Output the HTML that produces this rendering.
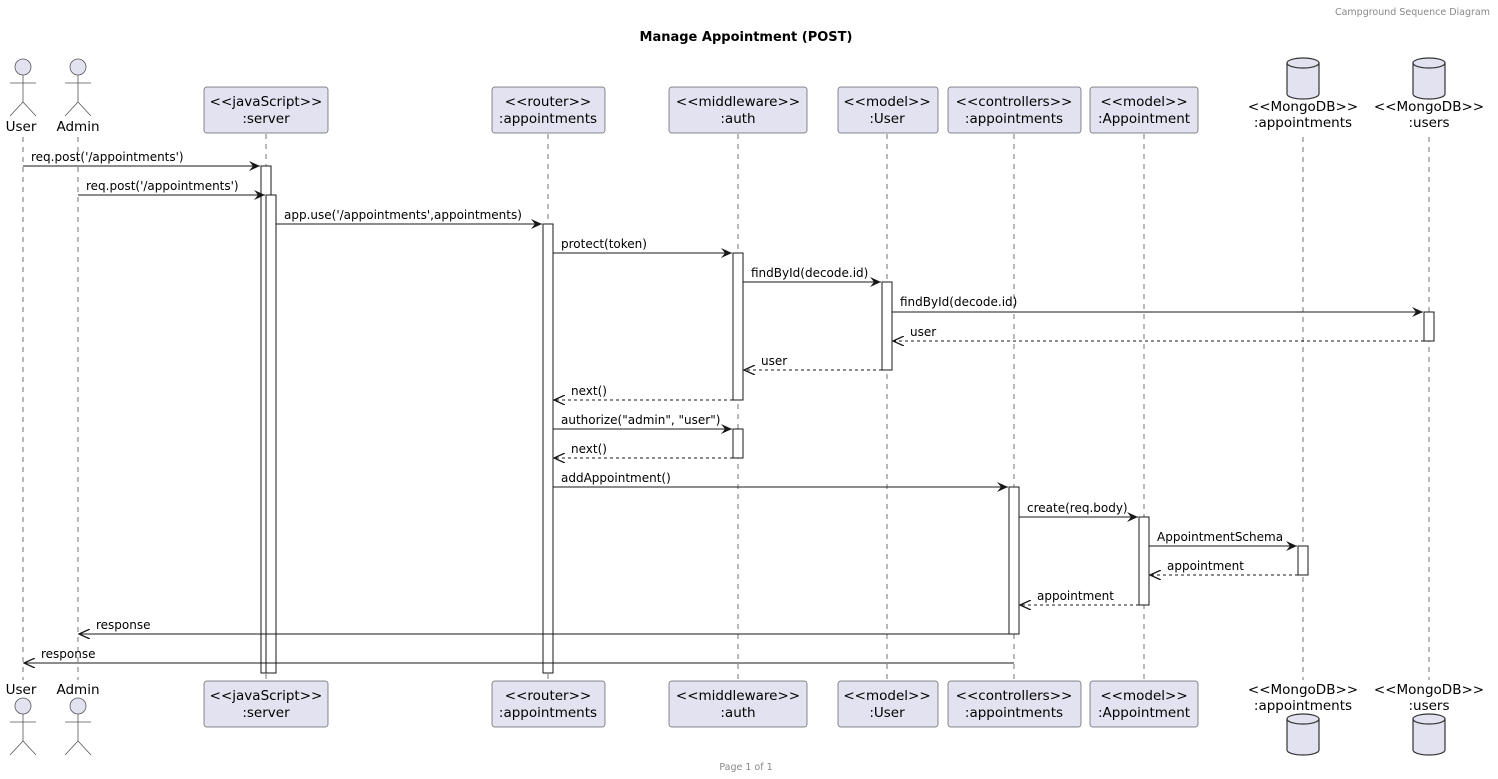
<!DOCTYPE html>
<html><head><meta charset="utf-8"><style>
html,body{margin:0;padding:0;background:#fff}
svg{display:block}
text{font-family:"DejaVu Sans","Liberation Sans",sans-serif;fill:#000}
.lbl{font-size:12px}
.nm{font-size:13.5px;text-anchor:middle}
</style></head><body>
<svg width="1498" height="779" viewBox="0 0 1498 779" xmlns="http://www.w3.org/2000/svg">
<defs>
<marker id="a" markerWidth="12" markerHeight="10" refX="11" refY="5" orient="auto" markerUnits="userSpaceOnUse">
<path d="M0,0 L11,5 L0,10 L4,5 Z" fill="#181818"/></marker>
<marker id="o" markerWidth="12" markerHeight="10" refX="11" refY="5" orient="auto" markerUnits="userSpaceOnUse">
<path d="M0,0 L11,5 L0,10" fill="none" stroke="#181818" stroke-width="1.3"/></marker>
</defs>
<text x="1490" y="15" font-size="9.5" style="fill:#888" text-anchor="end">Campground Sequence Diagram</text>
<text x="746" y="41" font-size="13" font-weight="bold" text-anchor="middle">Manage Appointment (POST)</text>
<text x="746" y="770" font-size="9.5" style="fill:#888" text-anchor="middle">Page 1 of 1</text>

<g stroke="#181818" stroke-width="0.6" stroke-dasharray="5,5">
<line x1="23" y1="137" x2="23" y2="680"/><line x1="78" y1="137" x2="78" y2="680"/>
<line x1="266" y1="134" x2="266" y2="680"/><line x1="548" y1="134" x2="548" y2="680"/>
<line x1="738" y1="134" x2="738" y2="680"/><line x1="887" y1="134" x2="887" y2="680"/>
<line x1="1014" y1="134" x2="1014" y2="680"/><line x1="1144" y1="134" x2="1144" y2="680"/>
<line x1="1303" y1="137" x2="1303" y2="680"/><line x1="1429" y1="137" x2="1429" y2="680"/>
</g>

<g fill="#e2e2f0" stroke="#555" stroke-width="0.8">
<g id="act"><circle cx="23" cy="67" r="8"/><line x1="23" y1="75" x2="23" y2="102"/><line x1="10" y1="83" x2="36" y2="83"/><line x1="23" y1="102" x2="10" y2="116"/><line x1="23" y1="102" x2="36" y2="116"/></g>
<use href="#act" x="55"/>
<use href="#act" y="639"/><use href="#act" x="55" y="639"/>
</g>
<text class="nm" x="21" y="131">User</text><text class="nm" x="78" y="131">Admin</text>
<text class="nm" x="21" y="694">User</text><text class="nm" x="78" y="694">Admin</text>

<g fill="#e2e2f0" stroke="#181818" stroke-width="0.5">
<rect x="204" y="87" width="124" height="46" rx="2.5"/><rect x="492" y="87" width="113" height="46" rx="2.5"/>
<rect x="669" y="87" width="138" height="46" rx="2.5"/><rect x="838" y="87" width="100" height="46" rx="2.5"/>
<rect x="948" y="87" width="133" height="46" rx="2.5"/><rect x="1090" y="87" width="108" height="46" rx="2.5"/>
<rect x="204" y="681" width="124" height="46" rx="2.5"/><rect x="492" y="681" width="113" height="46" rx="2.5"/>
<rect x="669" y="681" width="138" height="46" rx="2.5"/><rect x="838" y="681" width="100" height="46" rx="2.5"/>
<rect x="948" y="681" width="133" height="46" rx="2.5"/><rect x="1090" y="681" width="108" height="46" rx="2.5"/>
</g>
<text class="nm" x="266" y="106">&lt;&lt;javaScript&gt;&gt;</text><text class="nm" x="266" y="123">:server</text>
<text class="nm" x="548" y="106">&lt;&lt;router&gt;&gt;</text><text class="nm" x="548" y="123">:appointments</text>
<text class="nm" x="738" y="106">&lt;&lt;middleware&gt;&gt;</text><text class="nm" x="738" y="123">:auth</text>
<text class="nm" x="887" y="106">&lt;&lt;model&gt;&gt;</text><text class="nm" x="887" y="123">:User</text>
<text class="nm" x="1014" y="106">&lt;&lt;controllers&gt;&gt;</text><text class="nm" x="1014" y="123">:appointments</text>
<text class="nm" x="1144" y="106">&lt;&lt;model&gt;&gt;</text><text class="nm" x="1144" y="123">:Appointment</text>
<text class="nm" x="266" y="700">&lt;&lt;javaScript&gt;&gt;</text><text class="nm" x="266" y="717">:server</text>
<text class="nm" x="548" y="700">&lt;&lt;router&gt;&gt;</text><text class="nm" x="548" y="717">:appointments</text>
<text class="nm" x="738" y="700">&lt;&lt;middleware&gt;&gt;</text><text class="nm" x="738" y="717">:auth</text>
<text class="nm" x="887" y="700">&lt;&lt;model&gt;&gt;</text><text class="nm" x="887" y="717">:User</text>
<text class="nm" x="1014" y="700">&lt;&lt;controllers&gt;&gt;</text><text class="nm" x="1014" y="717">:appointments</text>
<text class="nm" x="1144" y="700">&lt;&lt;model&gt;&gt;</text><text class="nm" x="1144" y="717">:Appointment</text>

<g fill="#e2e2f0" stroke="#333" stroke-width="1.2">
<g id="db"><path d="M1287,63 a16,5 0 0,1 32,0 v31 a16,5 0 0,1 -32,0 Z"/><path d="M1287,63 a16,5 0 0,0 32,0" fill="none"/></g>
<use href="#db" x="126"/>
<use href="#db" y="656"/><use href="#db" x="126" y="656"/>
</g>
<text class="nm" x="1303" y="111">&lt;&lt;MongoDB&gt;&gt;</text><text class="nm" x="1303" y="127">:appointments</text>
<text class="nm" x="1429" y="111">&lt;&lt;MongoDB&gt;&gt;</text><text class="nm" x="1429" y="127">:users</text>
<text class="nm" x="1303" y="694">&lt;&lt;MongoDB&gt;&gt;</text><text class="nm" x="1303" y="710">:appointments</text>
<text class="nm" x="1429" y="694">&lt;&lt;MongoDB&gt;&gt;</text><text class="nm" x="1429" y="710">:users</text>

<g fill="#fff" stroke="#181818" stroke-width="1">
<rect x="261" y="166" width="10" height="507"/><rect x="266" y="195" width="10" height="478"/>
<rect x="543" y="224" width="10" height="449"/>
<rect x="733" y="253" width="10" height="147"/><rect x="733" y="429" width="10" height="29"/>
<rect x="882" y="282" width="10" height="88"/><rect x="1424" y="312" width="10" height="29"/>
<rect x="1009" y="487" width="10" height="147"/><rect x="1139" y="517" width="10" height="88"/>
<rect x="1298" y="546" width="10" height="29"/>
</g>

<g stroke="#181818" stroke-width="1" fill="none">
<line x1="23" y1="166" x2="260" y2="166" marker-end="url(#a)"/>
<line x1="78" y1="195" x2="265" y2="195" marker-end="url(#a)"/>
<line x1="276" y1="224" x2="542" y2="224" marker-end="url(#a)"/>
<line x1="553" y1="253" x2="732" y2="253" marker-end="url(#a)"/>
<line x1="743" y1="282" x2="881" y2="282" marker-end="url(#a)"/>
<line x1="892" y1="312" x2="1423" y2="312" marker-end="url(#a)"/>
<line x1="1424" y1="341" x2="893" y2="341" stroke-dasharray="3,3" marker-end="url(#o)"/>
<line x1="882" y1="370" x2="744" y2="370" stroke-dasharray="3,3" marker-end="url(#o)"/>
<line x1="733" y1="400" x2="554" y2="400" stroke-dasharray="3,3" marker-end="url(#o)"/>
<line x1="553" y1="429" x2="732" y2="429" marker-end="url(#a)"/>
<line x1="733" y1="458" x2="554" y2="458" stroke-dasharray="3,3" marker-end="url(#o)"/>
<line x1="553" y1="487" x2="1008" y2="487" marker-end="url(#a)"/>
<line x1="1019" y1="517" x2="1138" y2="517" marker-end="url(#a)"/>
<line x1="1149" y1="546" x2="1297" y2="546" marker-end="url(#a)"/>
<line x1="1298" y1="575" x2="1150" y2="575" stroke-dasharray="3,3" marker-end="url(#o)"/>
<line x1="1139" y1="605" x2="1020" y2="605" stroke-dasharray="3,3" marker-end="url(#o)"/>
<line x1="1009" y1="634" x2="79" y2="634" marker-end="url(#o)"/>
<line x1="1014" y1="663" x2="24" y2="663" marker-end="url(#o)"/>
</g>
<text class="lbl" x="31" y="161">req.post('/appointments')</text>
<text class="lbl" x="86" y="190">req.post('/appointments')</text>
<text class="lbl" x="284" y="219">app.use('/appointments',appointments)</text>
<text class="lbl" x="561" y="248">protect(token)</text>
<text class="lbl" x="751" y="277">findById(decode.id)</text>
<text class="lbl" x="900" y="306">findById(decode.id)</text>
<text class="lbl" x="910" y="336">user</text>
<text class="lbl" x="761" y="365">user</text>
<text class="lbl" x="571" y="395">next()</text>
<text class="lbl" x="561" y="424">authorize("admin", "user")</text>
<text class="lbl" x="571" y="453">next()</text>
<text class="lbl" x="561" y="482">addAppointment()</text>
<text class="lbl" x="1027" y="512">create(req.body)</text>
<text class="lbl" x="1157" y="541">AppointmentSchema</text>
<text class="lbl" x="1167" y="570">appointment</text>
<text class="lbl" x="1037" y="600">appointment</text>
<text class="lbl" x="96" y="629">response</text>
<text class="lbl" x="41" y="658">response</text>
</svg>
</body></html>
